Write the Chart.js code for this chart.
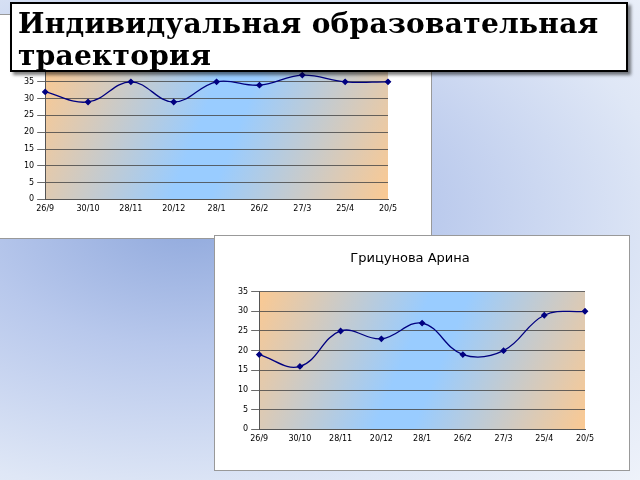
<!DOCTYPE html>
<html><head><meta charset="utf-8">
<script src="https://cdn.jsdelivr.net/npm/chart.js@4"></script>
<style>
body{margin:0;width:640px;height:480px;overflow:hidden;position:relative;
 background:radial-gradient(ellipse at 30% 45%,#8fa8dc 0%,#b8c8ec 35%,#dfe7f6 75%,#eef2fa 100%);font-family:"DejaVu Sans",sans-serif}
.box{position:absolute;background:#fff;border:1px solid #999}
#b1{left:-1px;top:14px;width:431px;height:223px}
#b2{left:214px;top:235px;width:414px;height:234px}
#title{position:absolute;left:10px;top:2px;width:618px;height:70px;background:#fff;border:2px solid #000;
 box-shadow:3px 3px 3px rgba(0,0,0,.5);font:bold 28px "DejaVu Serif",serif;line-height:32px;padding:4px 0 0 6px;box-sizing:border-box;letter-spacing:0.3px}
</style></head><body>
<div class="box" id="b1"><canvas id="c1" width="431" height="223"></canvas></div>
<div class="box" id="b2"><canvas id="c2" width="414" height="234"></canvas></div>
<div id="title">Индивидуальная образовательная траектория</div>
<script>
const dates = ['26/9','30/10','28/11','20/12','28/1','26/2','27/3','25/4','20/5'];
const scoresTop = [32,29,35,29,35,34,37,35,35];
const scoresArina = [19,16,25,23,27,19,20,29,30];

const bgPlugin = {
  id: 'bg',
  beforeDraw(chart) {
    const {ctx, chartArea: a} = chart;
    const g = ctx.createLinearGradient(a.left, a.top, a.right, a.bottom);
    g.addColorStop(0, '#fbc992');
    g.addColorStop(0.45, '#99ccff');
    g.addColorStop(0.55, '#99ccff');
    g.addColorStop(1, '#fbc992');
    ctx.save();
    ctx.fillStyle = g;
    ctx.fillRect(a.left, a.top, a.right - a.left, a.bottom - a.top);
    ctx.restore();
  }
};

function makeChart(id, data, max, title, pad, tpad) {
  return new Chart(document.getElementById(id), {
    type: 'line',
    data: { labels: dates, datasets: [{
      data: data, borderColor: '#000080', backgroundColor: '#000080', borderWidth: 1.3,
      tension: 0.4, pointStyle: 'rectRot', pointRadius: 2.5, fill: false }] },
    options: {
      responsive: false, animation: false,
      layout: { padding: pad },
      plugins: { legend: { display: false }, tooltip: { enabled: false },
        title: { display: !!title, text: title, color: '#000', font: { family: 'DejaVu Sans', size: 13, weight: 'normal' }, padding: tpad } },
      scales: {
        x: { offset: false, grid: { display: false, drawTicks: true, tickLength: 5 }, border: { color: '#555' },
             ticks: { padding: 0, color: '#000', font: { family: 'DejaVu Sans', size: 8 }, maxRotation: 0, autoSkip: false } },
        y: { min: 0, max: max, grid: { color: '#444', lineWidth: 0.8 }, border: { color: '#555' },
             ticks: { stepSize: 5, color: '#000', font: { family: 'DejaVu Sans', size: 8 } } }
      }
    },
    plugins: [bgPlugin]
  });
}
makeChart('c1', scoresTop, 40, '', { left: 21, right: 43, top: 50, bottom: 24 }, 0);
makeChart('c2', scoresArina, 35, 'Грицунова Арина', { left: 20, right: 44, top: 12, bottom: 26 }, { top: 3, bottom: 25 });
</script>
</body></html>
